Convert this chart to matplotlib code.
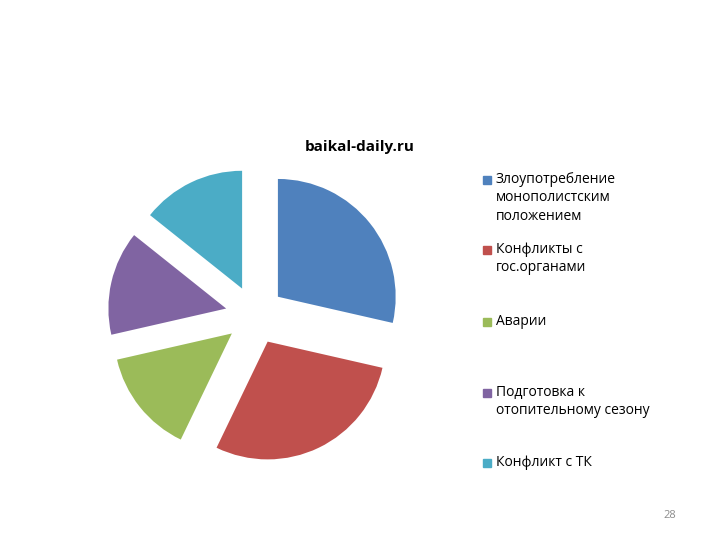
import matplotlib.pyplot as plt
from matplotlib.patches import Rectangle

labels = ["Злоупотребление\nмонополистским\nположением",
          "Конфликты с\nгос.органами",
          "Аварии",
          "Подготовка к\nотопительному сезону",
          "Конфликт с ТК"]
values = [2, 2, 1, 1, 1]
colors = ["#4F81BD", "#C0504D", "#9BBB59", "#8064A2", "#4BACC6"]

plt.rcParams["font.family"] = ["Open Sans", "DejaVu Sans"]
fig = plt.figure(figsize=(7.2, 5.4), dpi=100)
ax = fig.add_axes([0.125, 0.111, 0.458, 0.611])
ax.pie(values, colors=colors, startangle=90, counterclock=False,
       explode=[0.25] * len(values), wedgeprops=dict(linewidth=0))
ax.set_xlim(-1.4, 1.4)
ax.set_ylim(-1.4, 1.4)
ax.set_aspect("equal")
ax.axis("off")

fig.text(360 / 720, 1 - 147 / 540, "baikal-daily.ru", ha="center", va="center",
         fontsize=11, fontweight="bold")

ys = [180, 250, 322, 393, 463]
for lab, c, y in zip(labels, colors, ys):
    fig.patches.append(Rectangle((483 / 720, 1 - (y + 4) / 540), 8 / 720, 8 / 540,
                                 transform=fig.transFigure, color=c, figure=fig))
    fig.text(496 / 720, 1 - (y - 8) / 540, lab, ha="left", va="top",
             fontsize=10, linespacing=1.3)

fig.text(670 / 720, 1 - 515 / 540, "28", ha="center", va="center",
         fontsize=8, color="#8c8c8c")

fig.savefig("out.png", facecolor="white")
